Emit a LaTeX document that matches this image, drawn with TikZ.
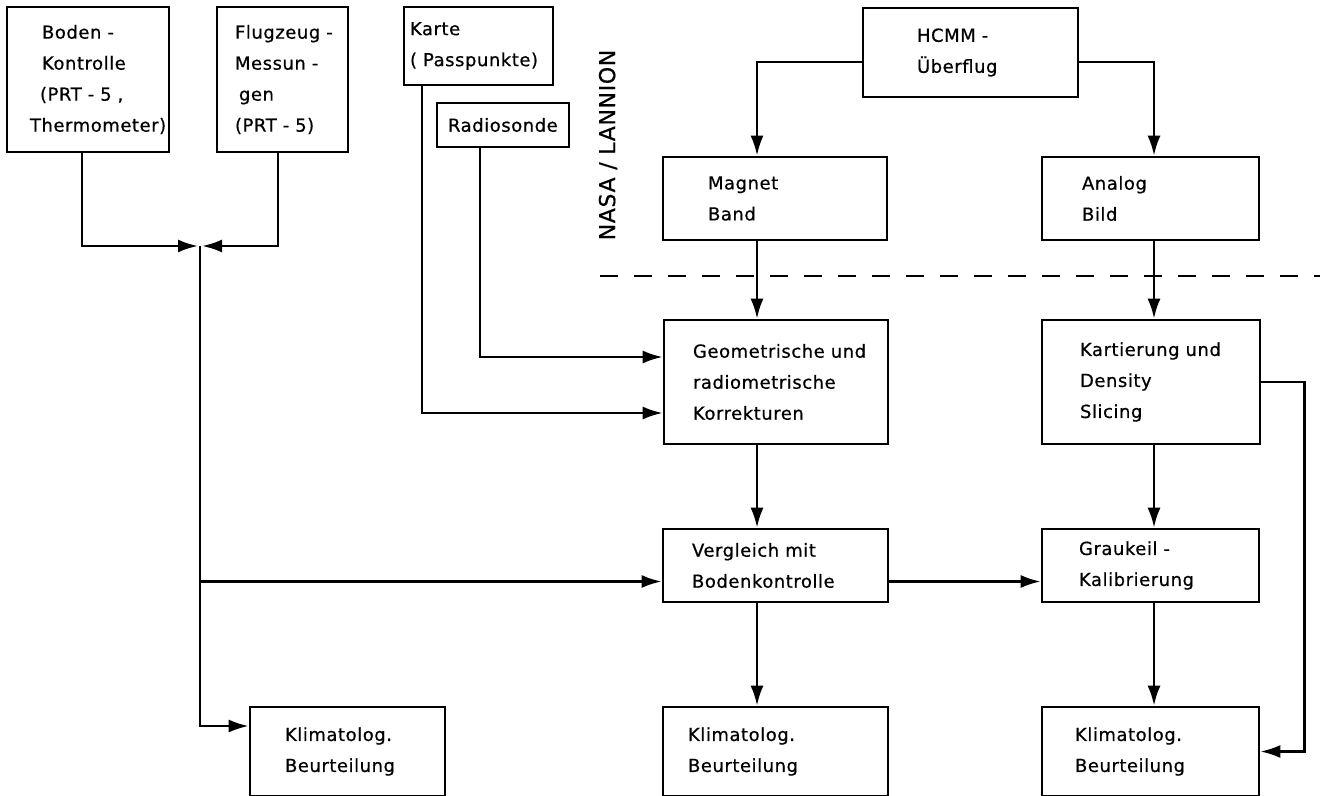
\documentclass[tikz,border=0pt]{standalone}
\usepackage{fontspec}
\usepackage{tikz}
\usetikzlibrary{arrows.meta,calc}
\newfontfamily\lettering{DejaVu Sans}[LetterSpace=3,FakeBold=0.6]
\tikzset{
  blk/.style={draw,line width=1.3pt,align=left,inner sep=0pt,
    font=\lettering\fontsize{9}{15.5}\selectfont},
  box/.style n args={3}{blk,minimum width=#1pt,minimum height=#2pt,text width=#3pt},
  arr/.style={line width=1.3pt,-{Latex[length=10pt,width=6.5pt]}}
}

\begin{document}
\begin{tikzpicture}[x=0.5pt,y=-0.5pt]
\useasboundingbox (0,0) rectangle (1320,796);
% upper row
\node[box={81}{72.5}{58}] (boden) at (88,79.5) {\hspace*{6pt}\mbox{Boden -}\\\hspace*{6pt}Kontrolle\\\hspace*{5pt}\mbox{(PRT - 5 ,}\\Thermometer)};
\node[box={65.5}{72.5}{47.5}] (flug) at (282.5,79.5) {\mbox{Flugzeug -}\\\mbox{Messun -}\\\hspace*{2pt}gen\\\mbox{(PRT - 5)}};
\node[box={74.5}{39}{68.5}] (karte) at (478.5,46) {Karte\\\mbox{( Passpunkte)}};
\node[box={66}{22}{55}] (radio) at (503,125) {Radiosonde};
\node[box={107.5}{44.5}{53.5}] (hcmm) at (970.5,52.5) {\mbox{HCMM -}\\Überflug};
\node[box={112}{41.5}{67}] (magnet) at (775,198.5) {Magnet\\Band};
\node[box={108.5}{41.5}{68.5}] (analog) at (1150.5,198.5) {Analog\\Bild};
\node[rotate=90,font=\lettering\fontsize{11}{13}\selectfont] (nasa) at (608,145) {NASA / LANNION};
\draw[line width=1.3pt,dash pattern=on 9pt off 8pt] (600,276) -- (1320,276);
% processing
\node[box={112}{62}{83}] (geom) at (776,382) {\mbox{Geometrische und}\\radiometrische\\Korrekturen};
\node[box={109}{62}{71}] (kart) at (1151,382) {\mbox{Kartierung und}\\Density\\Slicing};
\node[box={112.5}{36.5}{83.5}] (vergl) at (775.5,565.5) {\mbox{Vergleich mit}\\Bodenkontrolle};
\node[box={108.5}{36.5}{71.5}] (grau) at (1150.5,565.5) {\mbox{Graukeil -}\\Kalibrierung};
% results
\node[box={97.5}{44.5}{62.5}] (klim1) at (347.5,751.5) {Klimatolog.\\Beurteilung};
\node[box={112.5}{44.5}{87.5}] (klim2) at (775.5,751.5) {Klimatolog.\\Beurteilung};
\node[box={108.5}{44.5}{75.5}] (klim3) at (1150.5,751.5) {Klimatolog.\\Beurteilung};
% connections
\coordinate (jn) at (200,246);
\coordinate (mid) at (757,0);
\coordinate (rc) at (1154,0);
\coordinate (vin) at ([yshift=-8pt]vergl.west);
\draw[arr] ([xshift=-3pt]boden.south) |- ([xshift=-1pt]jn);
\draw[arr] ([xshift=-2.25pt]flug.south) |- ([xshift=1pt]jn);
\draw[arr] (jn) |- ([yshift=12.75pt]klim1.west);
\draw[arr] (jn |- vin) -- (vin);
\draw[arr] ([yshift=-8pt]vergl.east) -- ([yshift=-8pt]grau.west);
\draw[arr] ([xshift=-28.25pt]karte.south) |- ([yshift=-15.5pt]geom.west);
\draw[arr] ([xshift=-11.5pt]radio.south) |- ([yshift=12.5pt]geom.west);
\draw[arr] ([yshift=-4.75pt]hcmm.west) -| (magnet.north -| mid);
\draw[arr] ([yshift=-4.75pt]hcmm.east) -| (analog.north -| rc);
\draw[arr] (magnet.south -| mid) -- (geom.north -| mid);
\draw[arr] (analog.south -| rc) -- (kart.north -| rc);
\draw[arr] (geom.south -| mid) -- (vergl.north -| mid);
\draw[arr] (kart.south -| rc) -- (grau.north -| rc);
\draw[arr] (vergl.south -| mid) -- (klim2.north -| mid);
\draw[arr] (grau.south -| rc) -- (klim3.north -| rc);
\draw[arr] (kart.east) -- ++(21.5pt,0) |- (klim3.east);
\end{tikzpicture}
\end{document}
